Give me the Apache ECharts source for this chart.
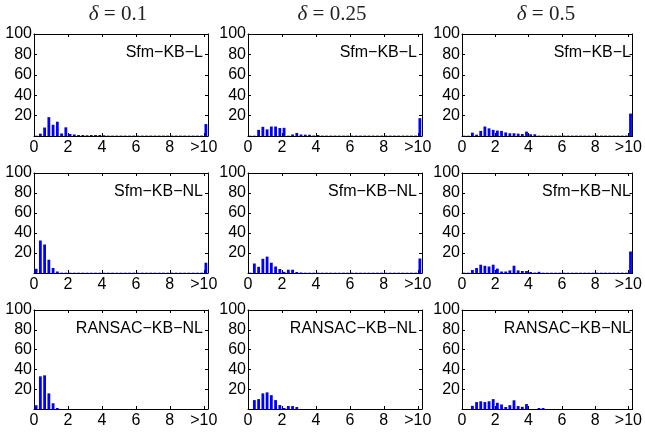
<!DOCTYPE html>
<html>
<head>
<meta charset="utf-8">
<script src="https://cdn.jsdelivr.net/npm/echarts@6/dist/echarts.min.js"></script>
<style>html,body{margin:0;padding:0;background:#fff;}#c{width:645px;height:432px;}</style>
</head>
<body>
<div id="c"></div>
<script>
// Histogram bin centres (bin width 0.25, last bin = ">10")
const binCenters = [0.125,0.375,0.625,0.875,1.125,1.375,1.625,1.875,2.125,2.375,2.625,2.875,3.125,3.375,3.625,3.875,4.125,4.375,4.625,4.875,5.125,5.375,5.625,5.875,6.125,6.375,6.625,6.875,7.125,7.375,7.625,7.875,8.125,8.375,8.625,8.875,9.125,9.375,9.625,9.875,10.125];

const colTitles = ['0.1', '0.25', '0.5'];
const rowLabels = ['Sfm\u2212KB\u2212L', 'Sfm\u2212KB\u2212NL', 'RANSAC\u2212KB\u2212NL'];
const xTickLabels = {0:'0', 2:'2', 4:'4', 6:'6', 8:'8', 10:'>10'};
const yTickValues = [20, 40, 60, 80, 100];

// Row 1: Sfm-KB-L
const sfmL_d01  = [0.3,2.3,8.3,18.5,11,14,2.5,8.5,2,1.5,1,1,0.7,1,1,1,0.7,0.4,0.4,0.4,0.4,0.4,0.4,0.4,0.4,0.4,0.4,0.4,0.4,0.4,0.4,0.4,0.4,0.4,0.4,0.4,0.4,0.4,0.4,0.4,11.7];
const sfmL_d025 = [0.3,0.3,6,9,6.5,9.3,9.3,7.8,8,0.3,1.5,3,1.5,1.3,1.2,0.5,1,0.4,0.4,0.4,0.4,0.4,0.4,0.4,0.4,0.4,0.4,0.4,0.4,0.4,0.4,0.4,0.4,0.4,0.4,0.4,0.4,0.4,0.4,0.4,17.5];
const sfmL_d05  = [0.3,0.3,3.3,1.3,5,9.3,7.5,6,5.3,5,3.5,2.7,2.7,2.3,2,4.3,1.7,1.7,0.4,0.4,0.4,0.4,0.4,0.4,0.4,0.4,0.4,0.4,0.4,0.4,0.4,0.4,0.4,0.4,0.4,0.4,0.4,0.4,0.4,0.4,22];
// Row 2: Sfm-KB-NL
const sfmNL_d01  = [4.2,32.5,28.5,13.3,5,1.5,0.3,0.3,0.3,0.3,0.3,0.3,0.3,0.3,0.3,0.3,0.3,0.3,0.3,0.3,0.3,0.3,0.3,0.3,0.3,0.3,0.3,0.3,0.3,0.3,0.3,0.3,0.3,0.3,0.3,0.3,0.3,0.3,0.3,0.3,10.3];
const sfmNL_d025 = [0.3,9.5,6.2,14.2,16.4,10.3,6.5,4,1.2,3.3,3.3,1,0.5,0.3,0.3,0.3,0.3,0.3,0.3,0.3,0.3,0.3,0.3,0.3,0.3,0.3,0.3,0.3,0.3,0.3,0.3,0.3,0.3,0.3,0.3,0.3,0.3,0.3,0.3,0.3,14.5];
const sfmNL_d05  = [0.3,0.3,3,5,8.3,7.2,6.5,8.3,4.4,1.5,1.5,2.6,7.3,2.6,2,2,1,0.4,1.2,0.3,0.3,0.3,0.3,0.3,0.3,0.3,0.3,0.3,0.3,0.3,0.3,0.3,0.3,0.3,0.3,0.3,0.3,0.3,0.3,0.3,21.5];
// Row 3: RANSAC-KB-NL
const ransac_d01  = [3.8,33,34,15.8,5.8,1,0,0,0,0,0,0,0,0,0,0,0,0,0,0,0,0,0,0,0,0,0,0,0,0,0,0,0,0,0,0,0,0,0,0,0];
const ransac_d025 = [0,9,10,15.8,16.8,14,9,4,1,3,3,2,0,0,0,0,0,0,0,0,0,0,0,0,0,0,0,0,0,0,0,0,0,0,0,0,0,0,0,0,0];
const ransac_d05  = [0,0,3.2,7,7.8,7,7.8,10,6.3,4.6,2,3.9,8.8,3,2.2,5,0,0,1,1,0,0,0,0,0,0,0,0,0,0,0,0,0,0,0,0,0,0,0,0,0];

const panelData = [
  [sfmL_d01, sfmL_d025, sfmL_d05],
  [sfmNL_d01, sfmNL_d025, sfmNL_d05],
  [ransac_d01, ransac_d025, ransac_d05]
];

// layout
const colLeft = [34, 248, 462];
const colWidth = 174;
const rowTop = [34, 173, 310];
const rowHeight = [102, 100, 99];

const X_MAX = 10.25;
const font = 'Liberation Sans, Arial, Helvetica, sans-serif';
const serif = 'Liberation Serif, DejaVu Serif, serif';

const grids = [], xAxesB = [], xAxesT = [], yAxesL = [], yAxesR = [], series = [], graphics = [];

for (let r = 0; r < 3; r++) {
  for (let c = 0; c < 3; c++) {
    const g = r * 3 + c;
    grids.push({left: colLeft[c], top: rowTop[r], width: colWidth, height: rowHeight[r], containLabel: false});
    xAxesB.push({
      type: 'value', gridIndex: g, position: 'bottom', min: 0, max: X_MAX, interval: 2,
      axisLine: {show: true, onZero: false, lineStyle: {color: '#000', width: 1}},
      axisTick: {show: true, inside: true, length: 3, lineStyle: {color: '#000'}},
      splitLine: {show: false},
      axisLabel: {show: true, margin: 4, color: '#000', fontSize: 16, fontFamily: font, showMaxLabel: false,
        formatter: v => (xTickLabels[v] !== undefined ? xTickLabels[v] : '')}
    });
    xAxesT.push({
      type: 'value', gridIndex: g, position: 'top', min: 0, max: X_MAX, interval: 2,
      axisLine: {show: true, onZero: false, lineStyle: {color: '#000', width: 1}},
      axisTick: {show: true, inside: true, length: 3, lineStyle: {color: '#000'}},
      splitLine: {show: false}, axisLabel: {show: false}
    });
    yAxesL.push({
      type: 'value', gridIndex: g, position: 'left', min: 0, max: 100, interval: 20,
      axisLine: {show: true, onZero: false, lineStyle: {color: '#000', width: 1}},
      axisTick: {show: true, inside: true, length: 3, lineStyle: {color: '#000'}},
      splitLine: {show: false},
      axisLabel: {show: true, margin: 2, color: '#000', fontSize: 16, fontFamily: font,
        formatter: v => (yTickValues.indexOf(v) >= 0 ? String(v) : '')}
    });
    yAxesR.push({
      type: 'value', gridIndex: g, position: 'right', min: 0, max: 100, interval: 20,
      axisLine: {show: true, onZero: false, lineStyle: {color: '#000', width: 1}},
      axisTick: {show: true, inside: true, length: 3, lineStyle: {color: '#000'}},
      splitLine: {show: false}, axisLabel: {show: false}
    });
    const vals = panelData[r][c];
    series.push({
      type: 'bar', xAxisIndex: g, yAxisIndex: g,
      data: binCenters.map((x, i) => [x, vals[i]]),
      barWidth: 2.8,
      itemStyle: {color: '#0000ff'},
      silent: true
    });
    graphics.push({
      type: 'text',
      style: {
        x: colLeft[c] + colWidth - 5, y: rowTop[r] + 19,
        text: rowLabels[r], align: 'right', verticalAlign: 'middle',
        font: '16px ' + font, fill: '#000'
      }
    });
  }
}

for (let c = 0; c < 3; c++) {
  graphics.push({
    type: 'text',
    style: {
      x: colLeft[c] + colWidth / 2 - 3, y: 14,
      text: '{i|\u03b4} = ' + colTitles[c],
      align: 'center', verticalAlign: 'middle',
      fontFamily: serif, fontSize: 21, fill: '#222',
      rich: {i: {fontStyle: 'italic', fontFamily: serif, fontSize: 21, fill: '#222'}}
    }
  });
}

const chart = echarts.init(document.getElementById('c'), null, {renderer: 'canvas'});
chart.setOption({
  animation: false,
  backgroundColor: '#fff',
  grid: grids,
  xAxis: xAxesB.concat(xAxesT),
  yAxis: yAxesL.concat(yAxesR),
  series: series,
  graphic: graphics
});
</script>
</body>
</html>
